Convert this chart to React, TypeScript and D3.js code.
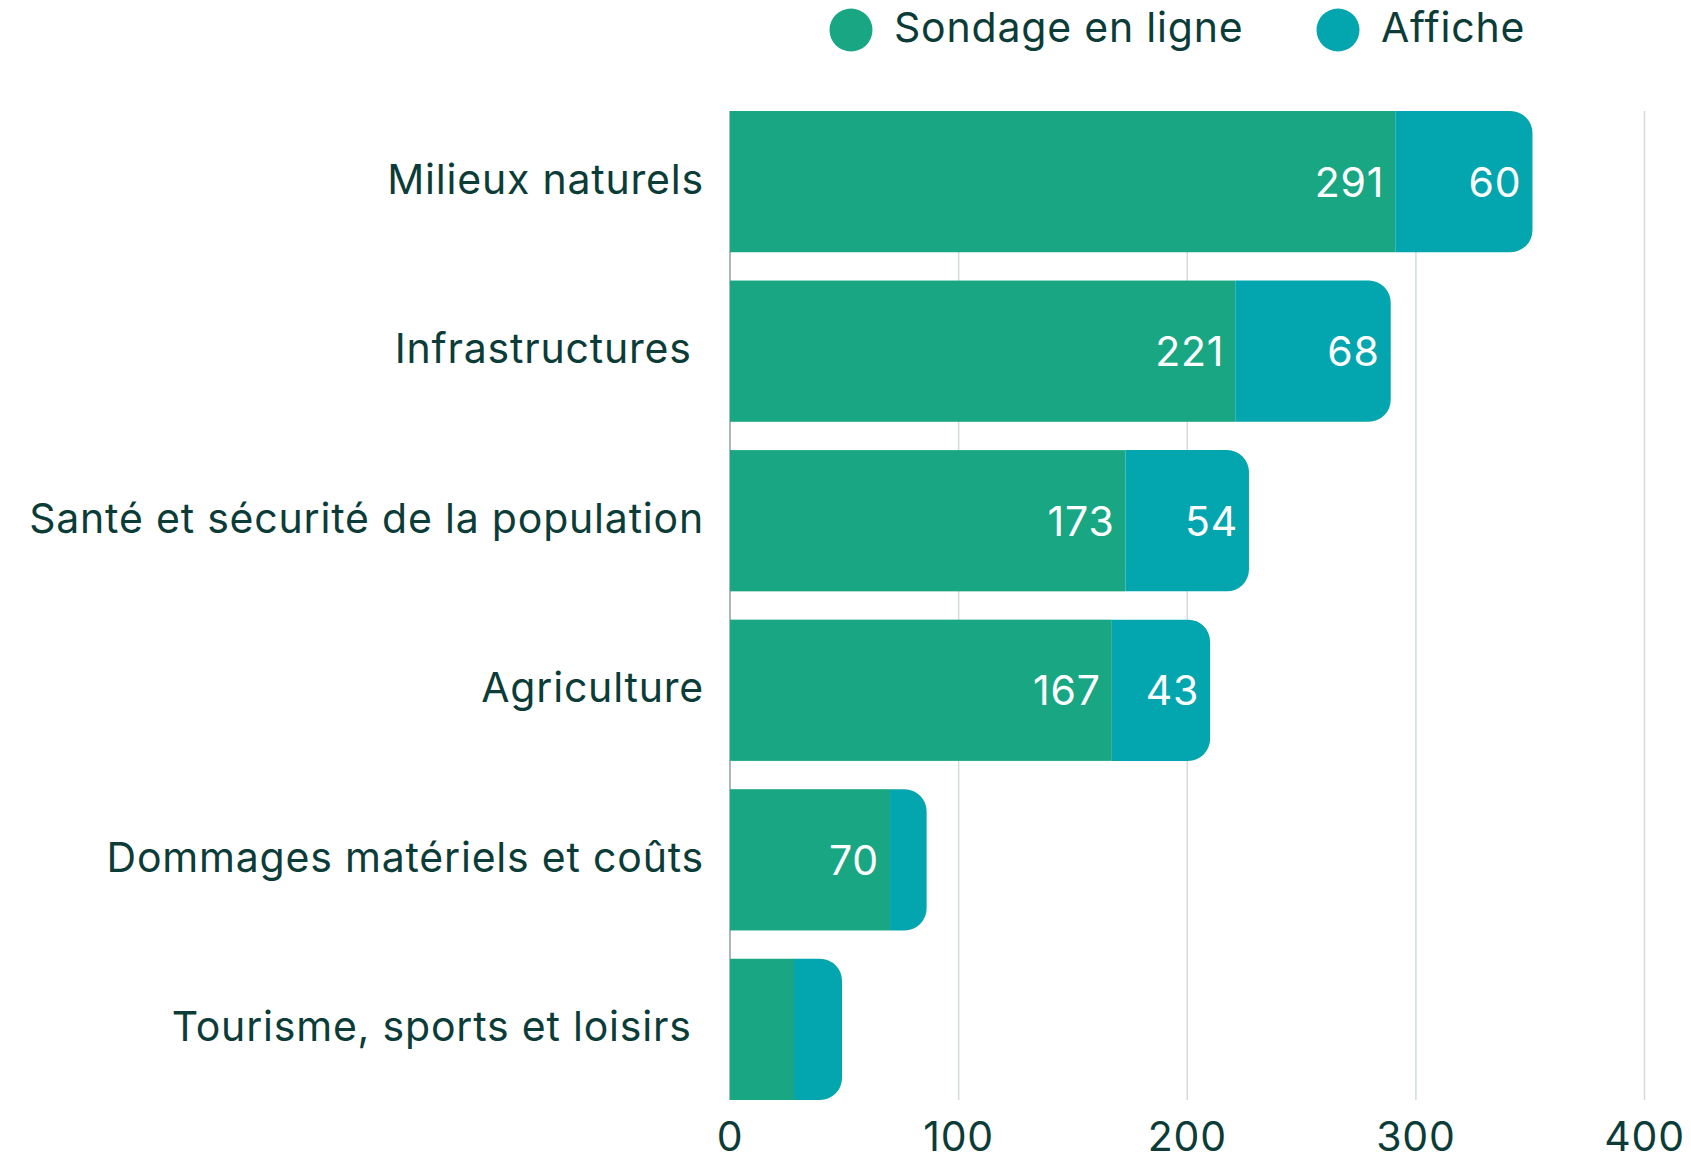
import * as d3 from 'd3';

const CATEGORIES = [
  'Milieux naturels',
  'Infrastructures ',
  'Santé et sécurité de la population',
  'Agriculture',
  'Dommages matériels et coûts',
  'Tourisme, sports et loisirs ',
];
const SONDAGE = [291, 221, 173, 167, 70, 28];
const AFFICHE = [60, 68, 54, 43, 16, 21];
const SERIES = ['Sondage en ligne', 'Affiche'];
const TICKS = [0, 100, 200, 300, 400];

const W = 1691;
const H = 1160;
const GREEN = '#18a683';
const TEAL = '#03a6ae';
const INK = '#0c3c38';
const FONT = 'Inter, "Noto Sans", sans-serif';
const FS = 41;
const LS = 0.8;
const MIN_LABEL_W = 80;

function roundRight(x: number, y: number, w: number, h: number, r: number) {
  const rr = Math.min(r, w, h / 2);
  return `M${x},${y}H${x + w - rr}A${rr},${rr} 0 0 1 ${x + w},${y + rr}V${y + h - rr}A${rr},${rr} 0 0 1 ${x + w - rr},${y + h}H${x}Z`;
}

export default function App() {
  const x = d3.scaleLinear().domain([0, 400]).range([730, 1644.5]);
  const y = d3.scaleBand<string>().domain(CATEGORIES).range([111, 1100]).paddingInner(0.167).paddingOuter(0);
  const bw = y.bandwidth();
  const color = d3.scaleOrdinal<string, string>().domain(SERIES).range([GREEN, TEAL]);

  const rows = CATEGORIES.map((c, i) => ({ c, a: SONDAGE[i], b: AFFICHE[i] }));

  return (
    <svg
      width={W}
      height={H}
      style={{ position: 'absolute', left: 0, top: 0, background: '#fff' }}
      fontFamily={FONT}
      fontSize={FS}
      letterSpacing={LS}
    >
      {/* grid */}
      {TICKS.slice(1).map(t => (
        <line key={t} x1={x(t)} x2={x(t)} y1={111} y2={1100} stroke="#d3dbdb" strokeWidth={1.5} />
      ))}
      <line x1={x(0)} x2={x(0)} y1={111} y2={1100} stroke="#8fa09f" strokeWidth={1.5} />

      {rows.map(d => {
        const y0 = y(d.c)!;
        const xa = x(d.a);
        const xb = x(d.a + d.b);
        const cy = y0 + bw / 2;
        return (
          <g key={d.c}>
            <rect x={x(0)} y={y0} width={xa - x(0)} height={bw} fill={color(SERIES[0])} />
            <path d={roundRight(xa, y0, xb - xa, bw, 22)} fill={color(SERIES[1])} />
            {xa - x(0) >= MIN_LABEL_W && (
              <text x={xa - 11} y={cy} textAnchor="end" dominantBaseline="central" fill="#fff">
                {d.a}
              </text>
            )}
            {xb - xa >= MIN_LABEL_W && (
              <text x={xb - 11} y={cy} textAnchor="end" dominantBaseline="central" fill="#fff">
                {d.b}
              </text>
            )}
            <text
              x={704}
              y={cy - 3}
              textAnchor="end"
              dominantBaseline="central"
              fill={INK}
              style={{ whiteSpace: 'pre' }}
            >
              {d.c}
            </text>
          </g>
        );
      })}

      {/* x axis labels */}
      {TICKS.map(t => (
        <text key={t} x={x(t)} y={1136} textAnchor="middle" dominantBaseline="central" fill={INK}>
          {t}
        </text>
      ))}

      {/* legend */}
      {SERIES.map((s, i) => {
        const cx = i === 0 ? 851 : 1338;
        return (
          <g key={s}>
            <circle cx={cx} cy={30} r={21.5} fill={color(s)} />
            <text x={cx + 43} y={27} dominantBaseline="central" fill={INK}>
              {s}
            </text>
          </g>
        );
      })}
    </svg>
  );
}
